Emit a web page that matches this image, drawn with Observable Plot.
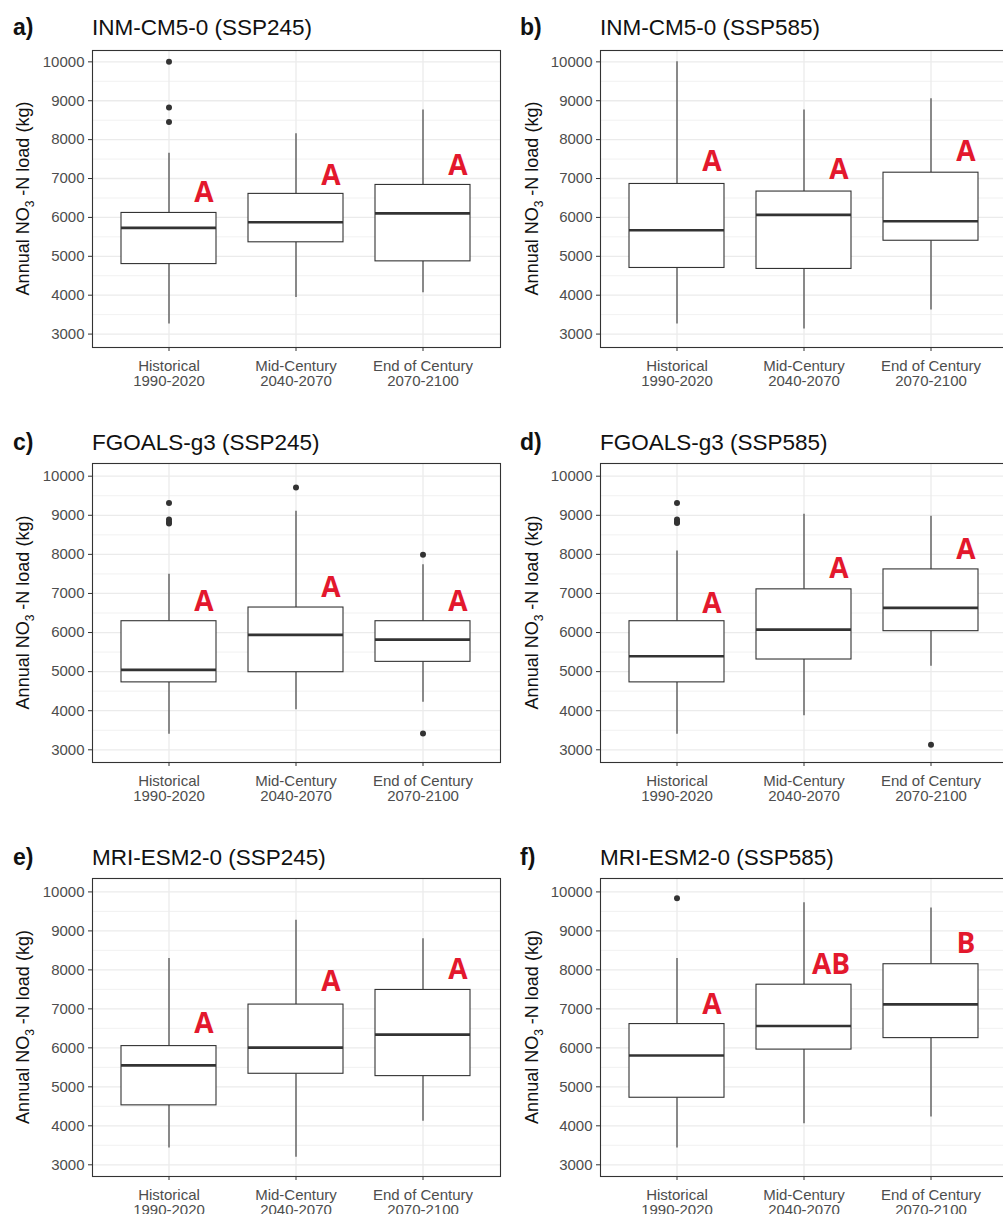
<!DOCTYPE html>
<html>
<head>
<meta charset="utf-8">
<script src="https://cdn.jsdelivr.net/npm/d3@7"></script>
<script src="https://cdn.jsdelivr.net/npm/@observablehq/plot@0.6"></script>
<style>
  html, body { margin: 0; padding: 0; background: #fff; }
  body { width: 1003px; height: 1214px; overflow: hidden; position: relative; font-family: "Liberation Sans", Arial, sans-serif; }
  .panel { position: absolute; }
  .panel svg { max-width: none !important; }
  #overlay { position: absolute; left: 0; top: 0; pointer-events: none; }
</style>
</head>
<body>
<script>
// ---------- data ----------
const periodNames = ["Historical", "Mid-Century", "End of Century"];
const periodYears = ["1990-2020", "2040-2070", "2070-2100"];
const yTicks = [3000, 4000, 5000, 6000, 7000, 8000, 9000, 10000];
const yMinorTicks = [3500, 4500, 5500, 6500, 7500, 8500, 9500];

const panelIds = ["a)", "b)", "c)", "d)", "e)", "f)"];
const panelTitles = [
  "INM-CM5-0 (SSP245)", "INM-CM5-0 (SSP585)",
  "FGOALS-g3 (SSP245)", "FGOALS-g3 (SSP585)",
  "MRI-ESM2-0 (SSP245)", "MRI-ESM2-0 (SSP585)"
];

// per panel, per period [Historical, Mid-Century, End of Century]
const whiskerLow = [
  [3260, 3940, 4060],
  [3260, 3130, 3620],
  [3400, 4025, 4215],
  [3400, 3870, 5135],
  [3430, 3195, 4115],
  [3430, 4055, 4225]
];
const quartile1 = [
  [4800, 5360, 4870],
  [4700, 4675, 5400],
  [4725, 4985, 5250],
  [4725, 5310, 6035],
  [4525, 5335, 5275],
  [4720, 5955, 6250]
];
const medians = [
  [5730, 5875, 6105],
  [5670, 6065, 5900],
  [5045, 5940, 5820],
  [5395, 6075, 6630],
  [5550, 6005, 6340],
  [5805, 6560, 7115]
];
const quartile3 = [
  [6115, 6605, 6835],
  [6860, 6665, 7150],
  [6290, 6640, 6290],
  [6290, 7105, 7615],
  [6045, 7110, 7485],
  [6610, 7620, 8145]
];
const whiskerHigh = [
  [7650, 8150, 8765],
  [10000, 8765, 9050],
  [7490, 9105, 7735],
  [8085, 9025, 8975],
  [8290, 9275, 8800],
  [8290, 9725, 9590]
];
const outlierValues = [
  [[10000, 8825, 8455], [], []],
  [[], [], []],
  [[9315, 8890, 8830, 8790], [9710], [7990, 3420]],
  [[9315, 8890, 8830, 8800], [], [3130]],
  [[], [], []],
  [[9835], [], []]
];
const groupLetters = [
  ["A", "A", "A"],
  ["A", "A", "A"],
  ["A", "A", "A"],
  ["A", "A", "A"],
  ["A", "A", "A"],
  ["A", "AB", "B"]
];
const letterHeights = [
  [6630, 7060, 7315],
  [7420, 7230, 7675],
  [6780, 7145, 6780],
  [6735, 7630, 8120],
  [6600, 7690, 7990],
  [7090, 8135, 8655]
];

// ---------- layout ----------
const frameTops = [50, 463, 878];
const frameBottoms = [347, 762, 1176];
const yDomains = [[2655, 10292], [2675, 10325], [2700, 10344]];
const colFrameLeft = [92, 600];
const frameWidth = 408;

const gridColor = "#ebebeb";
const inkColor = "#333333";
const labelColor = "#4d4d4d";
const letterColor = "#e3182d";

panelIds.forEach((pid, p) => {
  const row = Math.floor(p / 2), col = p % 2;
  const stats = periodNames.map((period, i) => ({
    period,
    lo: whiskerLow[p][i], q1: quartile1[p][i], med: medians[p][i],
    q3: quartile3[p][i], hi: whiskerHigh[p][i]
  }));
  const outs = periodNames.flatMap((period, i) => outlierValues[p][i].map(v => ({period, v})));
  const letters = periodNames.map((period, i) => ({period, label: groupLetters[p][i], y: letterHeights[p][i]}));
  const singleLetters = letters.filter(d => d.label.length === 1);
  const doubleLetters = letters.filter(d => d.label.length > 1);
  const letterStyle = {
    x: "period", y: "y", text: "label",
    fill: letterColor, fontSize: 28, fontWeight: "bold",
    fontFamily: "'Open Sans', 'Liberation Sans', sans-serif"
  };

  const marginTop = 10, marginBottom = 52;
  const marginLeft = col === 0 ? 92 : 100;
  const frameH = frameBottoms[row] - frameTops[row];
  const W = marginLeft + frameWidth + 1;
  const chart = Plot.plot({
    width: W,
    height: marginTop + frameH + marginBottom,
    marginTop, marginBottom, marginLeft, marginRight: 1,
    style: {fontFamily: "'Liberation Sans', Arial, sans-serif", fontSize: "15px", color: labelColor, background: "transparent", overflow: "visible"},
    x: {type: "band", domain: periodNames, paddingInner: 0.25, paddingOuter: 0.225, align: 0.5},
    y: {domain: yDomains[row]},
    marks: [
      Plot.ruleY(yMinorTicks, {stroke: gridColor, strokeWidth: 0.7}),
      Plot.ruleY(yTicks, {stroke: gridColor, strokeWidth: 1.3}),
      Plot.gridX({stroke: gridColor, strokeOpacity: 1, strokeWidth: 1.3}),
      Plot.ruleX(stats, {x: "period", y1: "lo", y2: "q1", stroke: inkColor, strokeWidth: 1.1}),
      Plot.ruleX(stats, {x: "period", y1: "q3", y2: "hi", stroke: inkColor, strokeWidth: 1.1}),
      Plot.barY(stats, {x: "period", y1: "q1", y2: "q3", fill: "white", stroke: inkColor, strokeWidth: 1.1}),
      Plot.tickY(stats, {x: "period", y: "med", stroke: inkColor, strokeWidth: 2.6}),
      Plot.dot(outs, {x: "period", y: "v", r: 3, fill: inkColor, stroke: null}),
      Plot.text(singleLetters, {...letterStyle, dx: 35}),
      Plot.text(doubleLetters, {...letterStyle, dx: 27}),
      Plot.axisY({ticks: yTicks, tickFormat: d => `${d}`, tickSize: 4, tickPadding: 4, stroke: inkColor, fill: labelColor, label: null}),
      Plot.axisX({tickSize: 4, tickPadding: 8, stroke: inkColor, fill: labelColor, label: null, lineHeight: 1.05,
        tickFormat: (d) => d + "\n" + periodYears[periodNames.indexOf(d)]}),
      Plot.frame({stroke: inkColor, strokeWidth: 1.1})
    ]
  });
  chart.style.maxWidth = "none";
  chart.style.width = W + "px";
  const div = document.createElement("div");
  div.className = "panel";
  div.style.left = (colFrameLeft[col] - marginLeft) + "px";
  div.style.top = (frameTops[row] - marginTop) + "px";
  div.style.width = W + "px";
  div.appendChild(chart);
  document.body.appendChild(div);
});

// ---------- overlay text: panel labels, titles, y-axis titles ----------
const overlay = d3.select("body").append("svg")
  .attr("id", "overlay").attr("width", 1003).attr("height", 1214);
const titleBaselines = [35, 450, 865];
const idLeft = [13, 520];
const ytitleX = [23, 532];
panelIds.forEach((pid, p) => {
  const row = Math.floor(p / 2), col = p % 2;
  overlay.append("text")
    .attr("x", idLeft[col]).attr("y", titleBaselines[row])
    .attr("font-family", "'Liberation Sans', Arial, sans-serif")
    .attr("font-weight", "bold").attr("font-size", 23).attr("fill", "#111")
    .text(pid);
  overlay.append("text")
    .attr("x", colFrameLeft[col]).attr("y", titleBaselines[row])
    .attr("font-family", "'Liberation Sans', Arial, sans-serif")
    .attr("font-size", 22.5).attr("fill", "#111")
    .text(panelTitles[p]);
  const cy = (frameTops[row] + frameBottoms[row]) / 2;
  const t = overlay.append("text")
    .attr("transform", `translate(${ytitleX[col]},${cy}) rotate(-90)`)
    .attr("text-anchor", "middle").attr("dominant-baseline", "central")
    .attr("font-family", "'Liberation Sans', Arial, sans-serif")
    .attr("font-size", 18).attr("fill", "#111");
  t.append("tspan").text("Annual NO");
  t.append("tspan").attr("font-size", 12).attr("baseline-shift", "sub").text("3");
  t.append("tspan").text(" -N load (kg)");
});
</script>
</body>
</html>
